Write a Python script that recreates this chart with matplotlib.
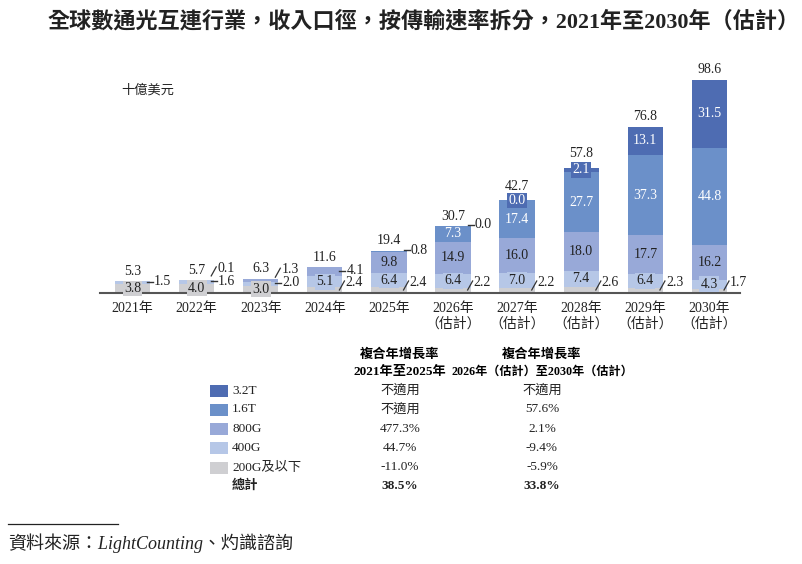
import matplotlib.pyplot as plt
from matplotlib.patches import Rectangle

plt.rcParams['font.family'] = ['Liberation Serif', 'Noto Sans CJK TC', 'DejaVu Sans']

years = ["2021年", "2022年", "2023年", "2024年", "2025年",
         "2026年\n（估計）", "2027年\n（估計）", "2028年\n（估計）",
         "2029年\n（估計）", "2030年\n（估計）"]
seg_names = ["200G及以下", "400G", "800G", "1.6T", "3.2T"]
v200 = [3.8, 4.0, 3.0, 2.4, 2.4, 2.2, 2.2, 2.6, 2.3, 1.7]
v400 = [1.5, 1.6, 2.0, 5.1, 6.4, 6.4, 7.0, 7.4, 6.4, 4.3]
v800 = [0.0, 0.1, 1.3, 4.1, 9.8, 14.9, 16.0, 18.0, 17.7, 16.2]
v16t = [0.0, 0.0, 0.0, 0.0, 0.8, 7.3, 17.4, 27.7, 37.3, 44.8]
v32t = [0.0, 0.0, 0.0, 0.0, 0.0, 0.0, 0.0, 2.1, 13.1, 31.5]
totals = [5.3, 5.7, 6.3, 11.6, 19.4, 30.7, 42.7, 57.8, 76.8, 98.6]

# CAGR table
cagr_rows = ["3.2T", "1.6T", "800G", "400G", "200G及以下", "總計"]
cagr_2125 = ["不適用", "不適用", "477.3%", "44.7%", "-11.0%", "38.5%"]
cagr_2630 = ["不適用", "57.6%", "2.1%", "-9.4%", "-5.9%", "33.8%"]

colors = ["#cfcfd2", "#b6c7e7", "#98a9d8", "#6b90c9", "#4e6cb2"]
text_colors = ["#222222", "#222222", "#222222", "white", "white"]

# how each segment label is placed: in / dash / diag / None
modes = [
    ["in", "in", "in", "diag", "diag", "diag", "diag", "diag", "diag", "diag"],
    ["dash", "dash", "dash", "in", "in", "in", "in", "in", "in", "in"],
    [None, "diag", "diag", "dash", "in", "in", "in", "in", "in", "in"],
    [None, None, None, None, "dash", "in", "in", "in", "in", "in"],
    [None, None, None, None, None, "dash", "in", "in", "in", "in"],
]

W, H = 802, 564
fig = plt.figure(figsize=(W / 100, H / 100), dpi=100)

def fx(px):
    return px / W

def fy(py):
    return 1 - py / H

base_px, top_px = 292.5, 60
left_px, right_px = 100, 740
ppu_y = 213 / 98.6
ppu_x = 64.1
ax = fig.add_axes([fx(left_px), fy(base_px), (right_px - left_px) / W, (base_px - top_px) / H])

series = [v200, v400, v800, v16t, v32t]
xs = list(range(len(years)))
bw = 0.55
bottoms = [0.0] * len(years)
seg_bottoms = []
for k, vals in enumerate(series):
    ax.bar(xs, vals, width=bw, bottom=bottoms, color=colors[k], linewidth=0, zorder=1)
    seg_bottoms.append(list(bottoms))
    bottoms = [b + v for b, v in zip(bottoms, vals)]

FS = 10
px = 1 / ppu_x
py = 1 / ppu_y
for k, vals in enumerate(series):
    for i, v in enumerate(vals):
        m = modes[k][i]
        if m is None:
            continue
        b = seg_bottoms[k][i]
        mid = b + v / 2
        xr = i + bw / 2
        lab = f"{v:.1f}"
        if m == "in":
            ax.text(i, mid, lab, ha="center", va="center", fontsize=FS, color=text_colors[k],
                    zorder=4, bbox=dict(boxstyle="square,pad=0.1", fc=colors[k], ec="none"))
        elif m == "dash":
            ax.plot([xr - 3 * px, xr + 3 * px], [mid + py, mid + py], color="#333333", lw=1, zorder=3)
            ax.text(xr + 4 * px, mid + py, lab, ha="left", va="center", fontsize=FS, color="#222222")
        else:
            up = 10 if k == 0 else 12
            ax.plot([xr - 3 * px, xr + 2 * px], [b + (up - 7.5) * py, b + (up + 1.5) * py],
                    color="#333333", lw=0.9, zorder=3)
            ax.text(xr + 3 * px, b + up * py, lab, ha="left", va="center", fontsize=FS, color="#222222")

for i, t in enumerate(totals):
    boxed = modes[4][i] == "in" and v32t[i] < 3
    ax.annotate(f"{t:.1f}", (i, t), xytext=(0, 5.5 if boxed else 2.5), textcoords="offset points",
                ha="center", va="bottom", fontsize=FS, color="#222222")

ax.set_xlim((left_px - 132.5) / ppu_x, (right_px - 132.5) / ppu_x)
ax.set_ylim(0, (base_px - top_px) / ppu_y)
ax.set_xticks(xs)
ax.set_xticklabels(years, fontsize=10, linespacing=1.2, color="#222222")
ax.tick_params(axis="x", length=0, pad=7)
ax.set_yticks([])
for s in ["top", "left", "right"]:
    ax.spines[s].set_visible(False)
ax.spines["bottom"].set_color("#555555")
ax.spines["bottom"].set_linewidth(1.5)
ax.spines["bottom"].set_zorder(2)

fig.text(fx(424), fy(22), "全球數通光互連行業，收入口徑，按傳輸速率拆分，2021年至2030年（估計）",
         ha="center", va="center", fontsize=15.9, fontweight="bold", color="#222222")
fig.text(fx(121), fy(90), "十億美元", ha="left", va="center", fontsize=9.5, color="#222222")

# CAGR table
fig.text(fx(400), fy(355), "複合年增長率", ha="center", va="center", fontsize=9.5, fontweight="bold")
fig.text(fx(400), fy(371.5), "2021年至2025年", ha="center", va="center", fontsize=9.5, fontweight="bold")
fig.text(fx(542), fy(355), "複合年增長率", ha="center", va="center", fontsize=9.5, fontweight="bold")
fig.text(fx(542), fy(371.5), "2026年（估計）至2030年（估計）", ha="center", va="center", fontsize=8.7, fontweight="bold")

row_y = [390.5, 409.5, 429, 448, 467.5, 486]
leg_colors = colors[::-1]
for r, name in enumerate(cagr_rows):
    y = row_y[r]
    bold = name == "總計"
    wt = "bold" if bold else "normal"
    if not bold:
        fig.add_artist(Rectangle((fx(210), fy(y + 6)), 18 / W, 12 / H, transform=fig.transFigure,
                                 facecolor=leg_colors[r], edgecolor="none"))
    fig.text(fx(232), fy(y), name, ha="left", va="center", fontsize=9.5, fontweight=wt, color="#222222")
    fig.text(fx(400), fy(y), cagr_2125[r], ha="center", va="center", fontsize=9.5, fontweight=wt, color="#222222")
    fig.text(fx(542), fy(y), cagr_2630[r], ha="center", va="center", fontsize=9.5, fontweight=wt, color="#222222")

fig.add_artist(plt.Line2D([fx(8), fx(118)], [fy(524), fy(524)], transform=fig.transFigure,
                          color="#222222", lw=0.9))
fig.text(fx(8), fy(543), "資料來源：LightCounting、灼識諮詢", ha="left", va="center",
         fontsize=13, style="italic", color="#222222")

fig.savefig("out.png", dpi=100)
